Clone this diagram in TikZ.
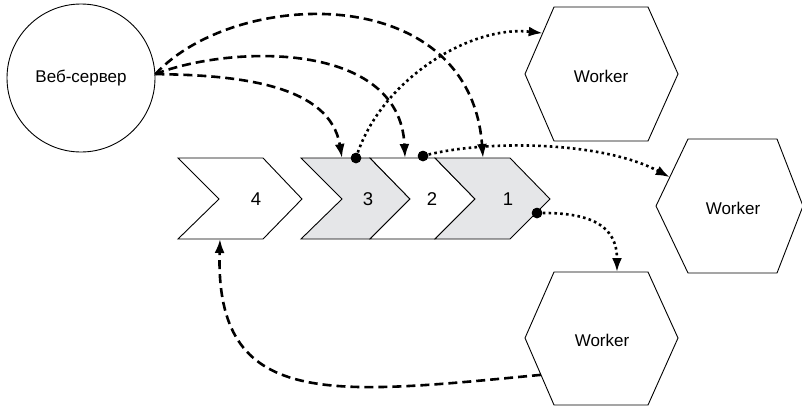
\documentclass[tikz,border=0pt]{standalone}
\usepackage{fontspec}
\setmainfont{Liberation Sans}
\usetikzlibrary{arrows.meta,calc}
\definecolor{chgray}{RGB}{229,230,232}
\begin{document}
\begin{tikzpicture}[x=1pt,y=-1pt,
  shapeline/.style={draw=black,line width=0.9pt,line join=miter},
  dashconn/.style={line width=2.6pt,dash pattern=on 9pt off 5pt,-{Latex[length=14pt,width=10pt]}},
  dotconn/.style={line width=2.6pt,dash pattern=on 2.6pt off 3.2pt,-{Latex[length=14pt,width=10pt]}},
  dotmark/.style={circle,fill=black,inner sep=0pt,minimum size=10.5pt},
  lbl/.style={font=\fontsize{17}{20}\selectfont,inner sep=0pt},
  num/.style={font=\fontsize{18.5}{22}\selectfont,inner sep=0pt}]
\useasboundingbox (0,0) rectangle (802,407);

% web server
\node[circle,draw,line width=0.9pt,minimum size=148pt,inner sep=0pt,lbl] (ws) at (81,78) {Веб-сервер};

% chevrons (queue)
\draw[shapeline,fill=white] (178,158) -- (263,158) -- (302,199) -- (263,239) -- (178,239) -- (219,199) -- cycle;
\draw[shapeline,fill=chgray] (301,158) -- (370,158) -- (410,199) -- (370,239) -- (301,239) -- (342,199) -- cycle;
\draw[shapeline,fill=white] (370,158) -- (435,158) -- (475,199) -- (435,239) -- (370,239) -- (410,199) -- cycle;
\draw[shapeline,fill=chgray] (435,158) -- (510,158) -- (550,199) -- (510,239) -- (435,239) -- (475,199) -- cycle;
\node[num] (n4) at (256,199) {4};
\node[num] (n3) at (368,199) {3};
\node[num] (n2) at (432,199) {2};
\node[num] (n1) at (508,199) {1};
\coordinate (c4in) at (220,239);
\coordinate (c3in) at (342,158);
\coordinate (c2in) at (405,158);
\coordinate (c1in) at (483,158);

% workers
\coordinate (w1L) at (525,74); \coordinate (w1TL) at (554,7); \coordinate (w1TR) at (648,7);
\coordinate (w1R) at (678,74); \coordinate (w1BR) at (648,141); \coordinate (w1BL) at (554,141);
\draw[shapeline] (w1L) -- (w1TL) -- (w1TR) -- (w1R) -- (w1BR) -- (w1BL) -- cycle;
\node[lbl] (w1) at (601,76) {Worker};

\coordinate (w2L) at (656,206); \coordinate (w2TL) at (688,139); \coordinate (w2TR) at (777,139);
\coordinate (w2R) at (803,206); \coordinate (w2BR) at (777,273); \coordinate (w2BL) at (688,273);
\draw[shapeline] (w2L) -- (w2TL) -- (w2TR) -- (w2R) -- (w2BR) -- (w2BL) -- cycle;
\node[lbl] (w2) at (733,208) {Worker};

\coordinate (w3L) at (525,338); \coordinate (w3TL) at (554,272); \coordinate (w3TR) at (648,272);
\coordinate (w3R) at (678,338); \coordinate (w3BR) at (648,405); \coordinate (w3BL) at (554,405);
\draw[shapeline] (w3L) -- (w3TL) -- (w3TR) -- (w3R) -- (w3BR) -- (w3BL) -- cycle;
\node[lbl] (w3) at (602,340) {Worker};

\coordinate (w1in) at ($(w1L)!0.61!(w1TL)$);
\coordinate (w2in) at ($(w2L)!0.43!(w2TL)$);
\coordinate (w3in) at ($(w3TL)!0.67!(w3TR)$);
\coordinate (w3out) at ($(w3L)!0.55!(w3BL)$);

% dashed: web server -> queue
\draw[dashconn] (ws.3) .. controls (235,-12) and (470,-20) .. (c1in);
\draw[dashconn] (ws.3) .. controls (230,45) and (400,40) .. (c2in);
\draw[dashconn] (ws.3) .. controls (240,75) and (330,85) .. (c3in);

% dotted: queue -> workers
\node[dotmark] (d3) at (356,158) {};
\node[dotmark] (d2) at (423,156) {};
\node[dotmark] (d1) at (537,213) {};
\draw[dotconn] (d3.center) .. controls (380,80) and (470,25) .. (w1in);
\draw[dotconn] (d2.center) .. controls (480,140) and (600,140) .. (w2in);
\draw[dotconn] (d1.center) .. controls (590,212) and (617,225) .. (w3in);
\node[dotmark] at (d3) {};
\node[dotmark] at (d2) {};
\node[dotmark] at (d1) {};

% dashed: worker -> back of queue
\draw[dashconn] (w3out) .. controls (330,395) and (215,410) .. (c4in);
\end{tikzpicture}
\end{document}
